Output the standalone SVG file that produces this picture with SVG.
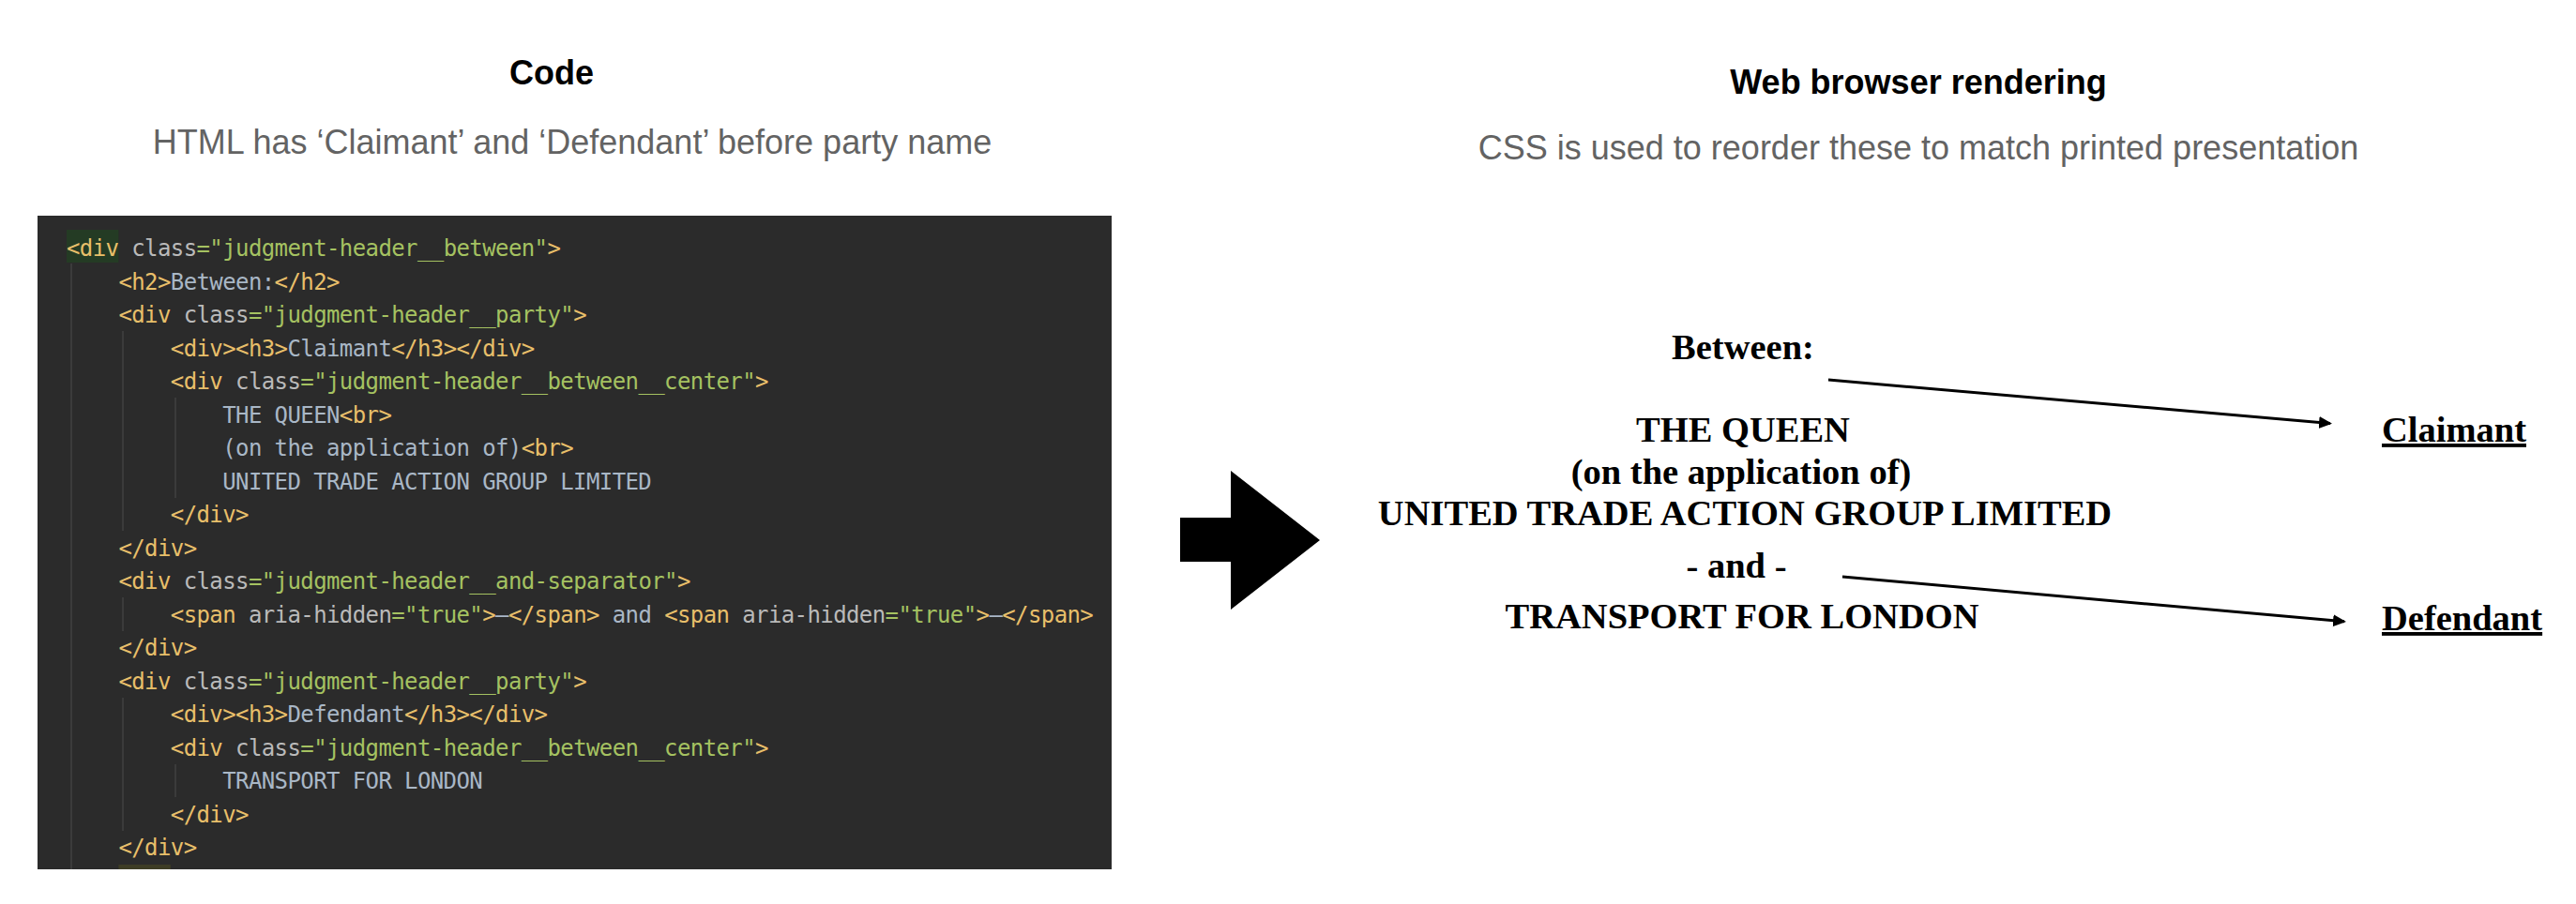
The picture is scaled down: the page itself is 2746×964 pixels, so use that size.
<svg xmlns="http://www.w3.org/2000/svg" width="2746" height="964" viewBox="0 0 2746 964">
<style>
.title{font-family:"Liberation Sans",Arial,sans-serif;font-weight:bold;font-size:36px;fill:#000;text-anchor:middle}
.sub{font-family:"Liberation Sans",Arial,sans-serif;font-size:36px;fill:#636363;text-anchor:middle}
.code{font-family:"DejaVu Sans Mono","Liberation Mono",monospace;font-size:24px;letter-spacing:-0.6px;white-space:pre}
.t{fill:#e8bf6a}.a{fill:#bababa}.v{fill:#a5c261}.x{fill:#a9b7c6}
.guide{stroke:#3b3b3b;stroke-width:2}
.doc{font-family:"Liberation Serif","Times New Roman",serif;font-weight:bold;font-size:38.5px;fill:#000;text-anchor:middle}
.lbl{font-family:"Liberation Serif","Times New Roman",serif;font-weight:bold;font-size:38.5px;fill:#000;text-decoration:underline}
.conn{stroke:#000;stroke-width:3;fill:none}
</style>
<defs>
<marker id="ah" markerUnits="userSpaceOnUse" markerWidth="16" markerHeight="14" viewBox="0 0 16 14" refX="12" refY="6.5" orient="auto">
<path d="M0,0 L14,6.5 L0,13 Z" fill="#000"/>
</marker>
</defs>
<rect width="2746" height="964" fill="#fff"/>

<g id="code-heading">
<text class="title" x="588" y="90">Code</text>
<text class="sub" x="610" y="164">HTML has ‘Claimant’ and ‘Defendant’ before party name</text>
</g>

<g id="browser-heading">
<text class="title" x="2045" y="100">Web browser rendering</text>
<text class="sub" x="2045" y="170">CSS is used to reorder these to match printed presentation</text>
</g>

<g id="code-panel">
<rect x="40" y="230" width="1145" height="697" fill="#2b2b2b"/>
<rect x="71" y="245" width="55.4" height="35" fill="#243b24"/>
<rect x="126.4" y="922" width="55.4" height="5" fill="#3d3c24"/>
<line class="guide" x1="76" y1="281" x2="76" y2="927"/>
<line class="guide" x1="131" y1="353" x2="131" y2="566"/>
<line class="guide" x1="131" y1="637" x2="131" y2="673"/>
<line class="guide" x1="131" y1="744" x2="131" y2="886"/>
<line class="guide" x1="187" y1="424" x2="187" y2="531"/>
<line class="guide" x1="187" y1="815" x2="187" y2="850"/>
<text class="code" xml:space="preserve" x="71" y="273"><tspan class="t">&lt;div</tspan><tspan class="a"> class</tspan><tspan class="v">="judgment-header__between"</tspan><tspan class="t">&gt;</tspan></text>
<text class="code" xml:space="preserve" x="126.4" y="308.5"><tspan class="t">&lt;h2&gt;</tspan><tspan class="x">Between:</tspan><tspan class="t">&lt;/h2&gt;</tspan></text>
<text class="code" xml:space="preserve" x="126.4" y="344"><tspan class="t">&lt;div</tspan><tspan class="a"> class</tspan><tspan class="v">="judgment-header__party"</tspan><tspan class="t">&gt;</tspan></text>
<text class="code" xml:space="preserve" x="181.8" y="379.5"><tspan class="t">&lt;div&gt;&lt;h3&gt;</tspan><tspan class="x">Claimant</tspan><tspan class="t">&lt;/h3&gt;&lt;/div&gt;</tspan></text>
<text class="code" xml:space="preserve" x="181.8" y="415"><tspan class="t">&lt;div</tspan><tspan class="a"> class</tspan><tspan class="v">="judgment-header__between__center"</tspan><tspan class="t">&gt;</tspan></text>
<text class="code" xml:space="preserve" x="237.2" y="450.5"><tspan class="x">THE QUEEN</tspan><tspan class="t">&lt;br&gt;</tspan></text>
<text class="code" xml:space="preserve" x="237.2" y="486"><tspan class="x">(on the application of)</tspan><tspan class="t">&lt;br&gt;</tspan></text>
<text class="code" xml:space="preserve" x="237.2" y="521.5"><tspan class="x">UNITED TRADE ACTION GROUP LIMITED</tspan></text>
<text class="code" xml:space="preserve" x="181.8" y="557"><tspan class="t">&lt;/div&gt;</tspan></text>
<text class="code" xml:space="preserve" x="126.4" y="592.5"><tspan class="t">&lt;/div&gt;</tspan></text>
<text class="code" xml:space="preserve" x="126.4" y="628"><tspan class="t">&lt;div</tspan><tspan class="a"> class</tspan><tspan class="v">="judgment-header__and-separator"</tspan><tspan class="t">&gt;</tspan></text>
<text class="code" xml:space="preserve" x="181.8" y="663.5"><tspan class="t">&lt;span</tspan><tspan class="a"> aria-hidden</tspan><tspan class="v">="true"</tspan><tspan class="t">&gt;</tspan><tspan class="x">–</tspan><tspan class="t">&lt;/span&gt;</tspan><tspan class="x"> and </tspan><tspan class="t">&lt;span</tspan><tspan class="a"> aria-hidden</tspan><tspan class="v">="true"</tspan><tspan class="t">&gt;</tspan><tspan class="x">–</tspan><tspan class="t">&lt;/span&gt;</tspan></text>
<text class="code" xml:space="preserve" x="126.4" y="699"><tspan class="t">&lt;/div&gt;</tspan></text>
<text class="code" xml:space="preserve" x="126.4" y="734.5"><tspan class="t">&lt;div</tspan><tspan class="a"> class</tspan><tspan class="v">="judgment-header__party"</tspan><tspan class="t">&gt;</tspan></text>
<text class="code" xml:space="preserve" x="181.8" y="770"><tspan class="t">&lt;div&gt;&lt;h3&gt;</tspan><tspan class="x">Defendant</tspan><tspan class="t">&lt;/h3&gt;&lt;/div&gt;</tspan></text>
<text class="code" xml:space="preserve" x="181.8" y="805.5"><tspan class="t">&lt;div</tspan><tspan class="a"> class</tspan><tspan class="v">="judgment-header__between__center"</tspan><tspan class="t">&gt;</tspan></text>
<text class="code" xml:space="preserve" x="237.2" y="841"><tspan class="x">TRANSPORT FOR LONDON</tspan></text>
<text class="code" xml:space="preserve" x="181.8" y="876.5"><tspan class="t">&lt;/div&gt;</tspan></text>
<text class="code" xml:space="preserve" x="126.4" y="912"><tspan class="t">&lt;/div&gt;</tspan></text>
</g>

<g id="big-arrow">
<polygon points="1258,552 1312,552 1312,502 1407,576 1312,650 1312,599 1258,599" fill="#000"/>
</g>

<g id="rendering">
<text class="doc" x="1858" y="383">Between:</text>
<text class="doc" x="1858" y="471">THE QUEEN</text>
<text class="doc" x="1856" y="516">(on the application of)</text>
<text class="doc" x="1860" y="560">UNITED TRADE ACTION GROUP LIMITED</text>
<text class="doc" x="1851" y="616">- and -</text>
<text class="doc" x="1857" y="670">TRANSPORT FOR LONDON</text>
</g>

<g id="claimant-label">
<text class="lbl" x="2539" y="471">Claimant</text>
</g>
<g id="defendant-label">
<text class="lbl" x="2539" y="672">Defendant</text>
</g>

<g id="connectors">
<line class="conn" x1="1949" y1="405" x2="2484" y2="451.6" marker-end="url(#ah)"/>
<line class="conn" x1="1964" y1="615" x2="2499" y2="662.8" marker-end="url(#ah)"/>
</g>
</svg>
